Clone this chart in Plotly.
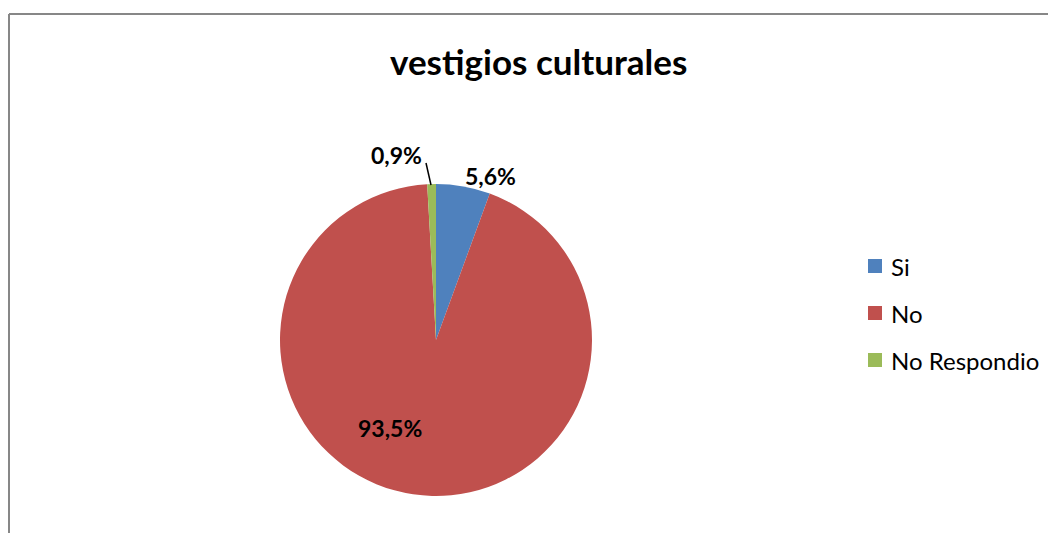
import plotly.graph_objects as go

W, H = 1056, 533
OFF = 8  # page body margin

title = "vestigios culturales"
labels = ["Si", "No", "No Respondio"]
values = [5.6, 93.5, 0.9]
colors = ["#4F81BD", "#C0504D", "#9BBB59"]

def px(x):
    return (x - OFF) / W

def py(y):
    return 1 - (y - OFF) / H

def fmt(v):
    return f"{v:.1f}%".replace(".", ",")

FONT = "Lato, Open Sans, sans-serif"

fig = go.Figure()
fig.add_trace(go.Pie(
    labels=labels, values=values, sort=False, direction="clockwise", rotation=0,
    marker=dict(colors=colors, line=dict(width=0)),
    textinfo="none", hoverinfo="label+percent",
    domain=dict(x=[px(280), px(592)], y=[py(496), py(184)]),
    showlegend=False,
))

label_font = dict(family=FONT, size=23, color="#000000")
label_pos = [(490, 176), (390, 428), (396, 155)]
anns = []
for v, (x, y) in zip(values, label_pos):
    anns.append(dict(text=f"<b>{fmt(v)}</b>", x=px(x), y=py(y), xref="paper", yref="paper",
                     showarrow=False, font=label_font, xanchor="center", yanchor="middle"))

anns.append(dict(text=f"<b>{title}</b>", x=px(538), y=py(61), xref="paper", yref="paper",
                 showarrow=False, xanchor="center", yanchor="middle",
                 font=dict(family=FONT, size=35, color="#000000")))

shapes = []
# leader line for small slice
shapes.append(dict(type="line", xref="paper", yref="paper", x0=px(426), y0=py(163), x1=px(431), y1=py(185),
                   line=dict(color="#000000", width=1.5)))
# border
shapes.append(dict(type="line", xref="paper", yref="paper", x0=px(9), y0=py(14), x1=px(W + 20), y1=py(14),
                   line=dict(color="#878787", width=2)))
shapes.append(dict(type="line", xref="paper", yref="paper", x0=px(9), y0=py(14), x1=px(9), y1=py(H + 20),
                   line=dict(color="#878787", width=2)))

# manual legend
leg_y = [266, 313, 360]
for lab, col, y in zip(labels, colors, leg_y):
    shapes.append(dict(type="rect", xref="paper", yref="paper", x0=px(868), x1=px(882), y0=py(y + 7), y1=py(y - 7),
                       fillcolor=col, line=dict(width=0)))
    anns.append(dict(text=lab, x=px(889), y=py(y), xref="paper", yref="paper", showarrow=False,
                     xanchor="left", yanchor="middle",
                     font=dict(family=FONT, size=24, color="#000000")))

fig.update_layout(
    width=W, height=H, margin=dict(l=0, r=0, t=0, b=0),
    paper_bgcolor="white", plot_bgcolor="white",
    annotations=anns, shapes=shapes,
)

fig.write_html("out.html")
